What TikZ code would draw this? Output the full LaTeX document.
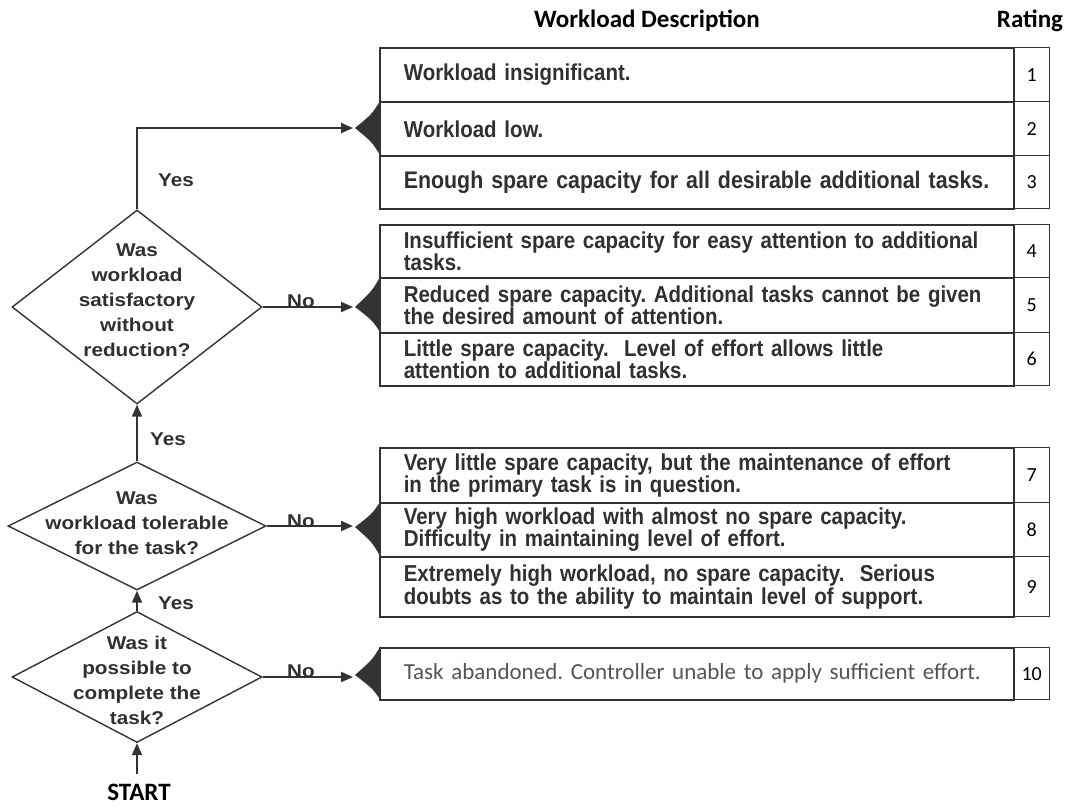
\documentclass[tikz,border=0pt]{standalone}
\usepackage{fontspec}
\setmainfont{Liberation Sans}
\newfontfamily\calfont{Carlito}
\newfontfamily\boxfont[FakeStretch=0.89]{Liberation Sans}
\newfontfamily\diafont[FakeStretch=1.12]{Liberation Sans}
\usetikzlibrary{shapes.geometric,arrows.meta}
\definecolor{ink}{HTML}{333333}
\definecolor{txt}{HTML}{303030}
\definecolor{graytxt}{HTML}{555555}
\frenchspacing
\begin{document}
\begin{tikzpicture}[x=1pt,y=-1pt,
  desc/.style={draw=ink, line width=1.6pt, rectangle, anchor=north west,
    minimum width=634pt, text width=610pt, inner xsep=12pt, inner ysep=0pt,
    execute at begin node={\leftskip=12pt\rightskip=0pt plus 1fil\parfillskip=0pt plus 1fil\hyphenpenalty=10000},
    font=\boxfont\fontsize{23}{22.5}\selectfont\bfseries, text=txt},
  rate/.style={draw=ink, line width=1.4pt, rectangle, anchor=north west,
    minimum width=36pt, inner sep=0pt, font=\calfont\fontsize{20}{20}\selectfont, text=black},
  dia/.style={draw=ink, line width=1.4pt, diamond, inner sep=0pt},
  dtext/.style={align=center, font=\diafont\fontsize{18.5}{25}\selectfont\bfseries, text=txt},
  lab/.style={font=\diafont\fontsize{18.5}{20}\selectfont\bfseries, text=txt},
  head/.style={font=\calfont\bfseries\fontsize{25}{25}\selectfont, text=black},
  arr/.style={draw=ink, line width=2pt, -{Triangle[length=12pt,width=10pt]}},
  entrymark/.style={fill=ink, draw=none}
]
\useasboundingbox (0,0) rectangle (1067,807);
\fill[white] (0,0) rectangle (1067,807);

% headers
\node[head] (hdesc) at (647,21) {Workload Description};
\node[head] (hrate) at (1030,21) {Rating};

% group 1
\node[desc, minimum height=54pt] (r1) at (379,47) {Workload insignificant.};
\node[desc, minimum height=54pt] (r2) at (379,101) {Workload low.};
\node[desc, minimum height=53pt, font=\boxfont\fontsize{24}{22.5}\selectfont\bfseries] (r3) at (379,155) {Enough spare capacity for all desirable additional tasks.};
\node[rate, minimum height=54pt] (c1) at (1013,47) {1};
\node[rate, minimum height=54pt] (c2) at (1013,101) {2};
\node[rate, minimum height=53pt] (c3) at (1013,155) {3};

% group 2
\node[desc, minimum height=53pt] (r4) at (379,224) {Insufficient spare capacity for easy attention to additional\\tasks.};
\node[desc, minimum height=55pt] (r5) at (379,277) {Reduced spare capacity. Additional tasks cannot be given\\the desired amount of attention.};
\node[desc, minimum height=53pt] (r6) at (379,332) {Little spare capacity.\ \ Level of effort allows little\\attention to additional tasks.};
\node[rate, minimum height=53pt] (c4) at (1013,224) {4};
\node[rate, minimum height=55pt] (c5) at (1013,277) {5};
\node[rate, minimum height=53pt] (c6) at (1013,332) {6};

% group 3
\node[desc, minimum height=55pt] (r7) at (379,447) {Very little spare capacity, but the maintenance of effort\\in the primary task is in question.};
\node[desc, minimum height=54pt] (r8) at (379,502) {Very high workload with almost no spare capacity.\\Difficulty in maintaining level of effort.};
\node[desc, minimum height=60pt] (r9) at (379,556) {Extremely high workload, no spare capacity.\ \ Serious\\doubts as to the ability to maintain level of support.};
\node[rate, minimum height=55pt] (c7) at (1013,447) {7};
\node[rate, minimum height=54pt] (c8) at (1013,502) {8};
\node[rate, minimum height=60pt] (c9) at (1013,556) {9};

% group 4
\node[desc, minimum height=52pt, font=\calfont\fontsize{23}{24}\selectfont, text=graytxt] (r10) at (379,647) {Task abandoned. Controller unable to apply sufficient effort.};
\node[rate, minimum height=52pt] (c10) at (1013,647) {10};

% black marks at box entries
\coordinate (tip1) at (355,128);
\coordinate (tip2) at (355,307);
\coordinate (tip3) at (355,527);
\coordinate (tip4) at (355,675);
\fill[entrymark] (380,101) .. controls (372,114) .. (tip1) .. controls (372,142) .. (380,155) -- cycle;
\fill[entrymark] (380,277) .. controls (372,291) .. (tip2) .. controls (372,320) .. (380,332) -- cycle;
\fill[entrymark] (380,502) .. controls (372,514) .. (tip3) .. controls (372,542) .. (380,556) -- cycle;
\fill[entrymark] (380,647) .. controls (372,660) .. (tip4) .. controls (372,688) .. (380,699) -- cycle;

% diamonds
\node[dia, minimum width=250pt, minimum height=194pt] (d1) at (137,307) {};
\node[dtext] (d1t) at (137,300) {Was\\workload\\satisfactory\\without\\reduction?};
\node[dia, minimum width=258pt, minimum height=128pt] (d2) at (137,526) {};
\node[dtext] (d2t) at (137,523) {Was\\workload tolerable\\for the task?};
\node[dia, minimum width=250pt, minimum height=131pt] (d3) at (137,677) {};
\node[dtext] (d3t) at (137,680) {Was it\\possible to\\complete the\\task?};

% start
\node[head] (start) at (139,792) {START};

% connectors
\coordinate (s0) at (137,774);
\draw[arr] (s0) -- (d3.south);
\draw[arr] (d3.north) -- (d2.south);
\draw[arr] (d2.north) -- (d1.south);
\draw[arr] (d1.north) |- ([xshift=-2pt]tip1);
\draw[arr] (d1.east) -- ([xshift=-2pt]tip2);
\draw[arr] (d2.east) -- ([xshift=-2pt]d2.east -| tip3);
\draw[arr] (d3.east) -- ([xshift=-2pt]d3.east -| tip4);

% labels
\node[lab] (y1) at (176,180) {Yes};
\node[lab] (y2) at (168,439) {Yes};
\node[lab] (y3) at (176,603) {Yes};
\node[lab, anchor=base] (n1) at (301,307) {No};
\node[lab, anchor=base] (n2) at (301,527) {No};
\node[lab, anchor=base] (n3) at (301,677) {No};
\end{tikzpicture}
\end{document}
